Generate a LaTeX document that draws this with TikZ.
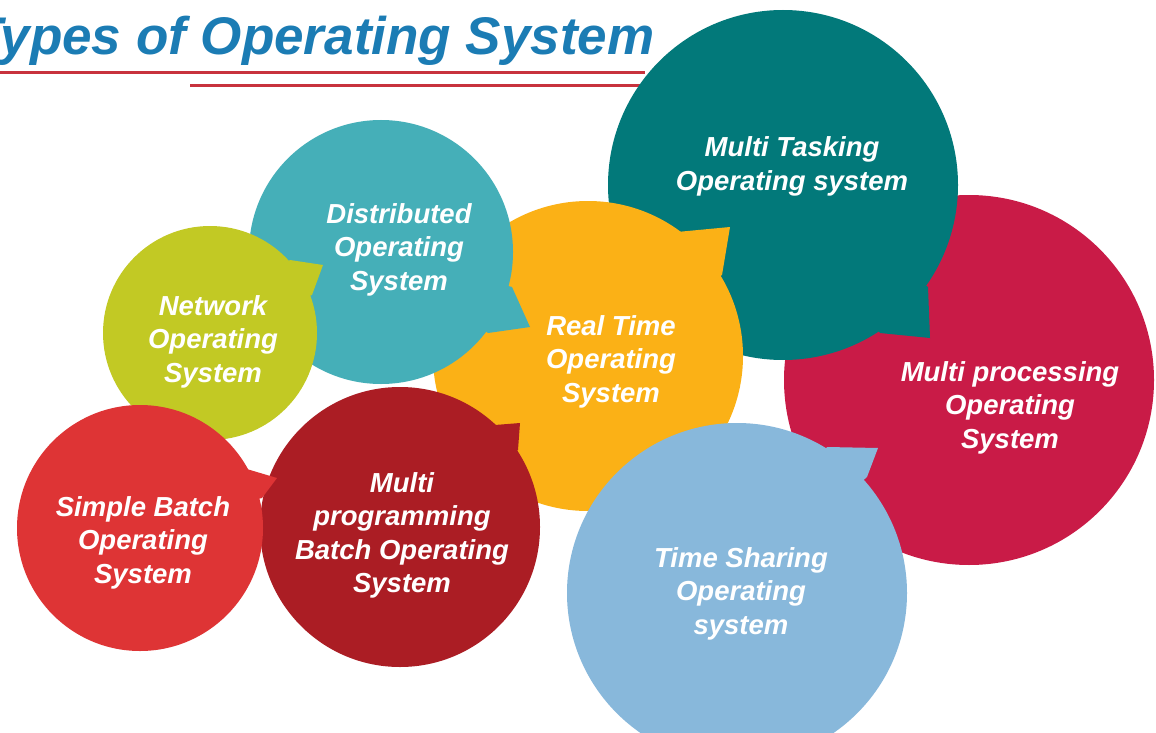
\documentclass[tikz,border=0pt]{standalone}
\usepackage{fontspec}
\setmainfont{Liberation Sans}
\usepackage{xcolor}
\usepackage{tikz}
\definecolor{mproccol}{HTML}{C91B47}
\definecolor{mtaskcol}{HTML}{02797A}
\definecolor{rtimecol}{HTML}{FBB116}
\definecolor{distcol}{HTML}{45AFB8}
\definecolor{netcol}{HTML}{C2C924}
\definecolor{mprogcol}{HTML}{AB1D24}
\definecolor{sbatchcol}{HTML}{DE3435}
\definecolor{tsharecol}{HTML}{88B8DB}
\definecolor{titlecol}{HTML}{1B7CB4}
\definecolor{rulecol}{HTML}{C8323D}

\begin{document}
\begin{tikzpicture}[x=1pt,y=-1pt]
\tikzstyle{every node}+=[inner sep=0pt]
\tikzstyle{bubtext}=[text=white,align=center,font=\fontsize{27.5}{33.5}\selectfont\bfseries\itshape]
\clip (0,0) rectangle (1156,733);
\fill [white] (0,0) rectangle (1156,733);
\node [anchor=base west,text=titlecol,font=\fontsize{53}{60}\selectfont\bfseries\itshape] (title) at (-30,55) {Types of Operating System};
\draw [rulecol,line width=3pt] (0,73) -- (645,73);
\draw [rulecol,line width=3pt] (190,86) -- (640,86);
\fill [mproccol] (969,380) circle (185);
\node [bubtext] (mproc) at (1010,407.5) {Multi processing\\Operating\\System};
\fill [mtaskcol] (783,185) circle (175);
\fill [mtaskcol] (783,185) -- (880,333) -- (930,338) -- (928,287) -- cycle;
\node [bubtext] (mtask) at (792,166.5) {Multi Tasking\\Operating system};
\fill [rtimecol] (588,356) circle (155);
\fill [rtimecol] (588,356) -- (677,232) -- (730,227) -- (722,275) -- cycle;
\node [bubtext] (rtime) at (611,361.5) {Real Time\\Operating\\System};
\fill [distcol] (381,252) circle (132);
\fill [distcol] (381,252) -- (512,287) -- (530,327) -- (488,333) -- cycle;
\node [bubtext] (dist) at (399,249.5) {Distributed\\Operating\\System};
\fill [netcol] (210,333) circle (107);
\fill [netcol] (210,333) -- (290,260) -- (323,265) -- (312,295) -- cycle;
\node [bubtext] (net) at (213,341.5) {Network\\Operating\\System};
\fill [mprogcol] (400,527) circle (140);
\fill [mprogcol] (400,527) -- (495,425) -- (520,423) -- (518,450) -- cycle;
\node [bubtext] (mprog) at (402,535.5) {Multi\\programming\\Batch Operating\\System};
\fill [sbatchcol] (140,528) circle (123);
\fill [sbatchcol] (140,528) -- (240,467) -- (277,478) -- (262,498) -- cycle;
\node [bubtext] (sbatch) at (143,542.5) {Simple Batch\\Operating\\System};
\fill [tsharecol] (737,593) circle (170);
\fill [tsharecol] (737,593) -- (827,447) -- (878,448) -- (867,477) -- cycle;
\node [bubtext] (tshare) at (741,593.5) {Time Sharing\\Operating\\system};
\end{tikzpicture}
\end{document}
